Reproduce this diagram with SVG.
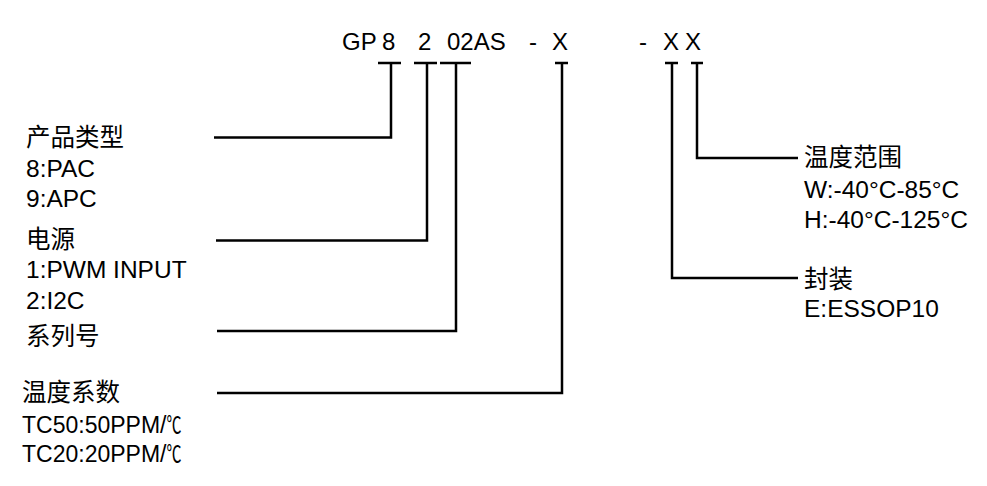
<svg xmlns="http://www.w3.org/2000/svg" width="987" height="486" viewBox="0 0 987 486">
<style>
.t{font-family:"Liberation Sans","Noto Sans CJK SC",Arial,sans-serif;font-size:24px;fill:#000}
.l{font-size:24.5px}
.s{font-size:23px}
.c{stroke:#000;stroke-width:2.5;fill:none}
</style>
<rect width="987" height="486" fill="#fff"/>
<g id="code">
<text class="t" x="342" y="50">GP</text>
<text class="t" x="382" y="50">8</text>
<text class="t" x="418" y="50">2</text>
<text class="t" x="447" y="50">02AS</text>
<text class="t" x="529" y="50">-</text>
<text class="t" x="552" y="50">X</text>
<text class="t" x="639" y="50">-</text>
<text class="t" x="663" y="50">X</text>
<text class="t" x="685" y="50">X</text>
</g>
<g id="connectors" class="c">
<path d="M378,63 H401 M391,63 V137.5 H214"/>
<path d="M414,63 H437 M427,63 V240.5 H216"/>
<path d="M440,63 H471 M456,63 V331 H217"/>
<path d="M555,63 H568 M562,63 V393 H217"/>
<path d="M665,63 H678 M672,63 V278 H798"/>
<path d="M691,63 H703 M697,63 V158 H798"/>
</g>
<g id="product-type">
<text class="t l" x="26" y="146">产品类型</text>
<text class="t l" x="26" y="177">8:PAC</text>
<text class="t l" x="26" y="207">9:APC</text>
</g>
<g id="power">
<text class="t l" x="26" y="248">电源</text>
<text class="t l" x="26" y="278">1:PWM INPUT</text>
<text class="t l" x="26" y="309">2:I2C</text>
</g>
<g id="series">
<text class="t l" x="26" y="345">系列号</text>
</g>
<g id="temp-coeff">
<text class="t l" x="22" y="401">温度系数</text>
<text class="t s" x="22" y="433">TC50:50PPM/<tspan textLength="15" lengthAdjust="spacingAndGlyphs">℃</tspan></text>
<text class="t s" x="22" y="462">TC20:20PPM/<tspan textLength="15" lengthAdjust="spacingAndGlyphs">℃</tspan></text>
</g>
<g id="temp-range">
<text class="t l" x="804" y="166">温度范围</text>
<text class="t l" x="804" y="198">W:-40°C-85°C</text>
<text class="t l" x="804" y="228">H:-40°C-125°C</text>
</g>
<g id="package">
<text class="t l" x="804" y="288">封装</text>
<text class="t l" x="804" y="317">E:ESSOP10</text>
</g>
</svg>
